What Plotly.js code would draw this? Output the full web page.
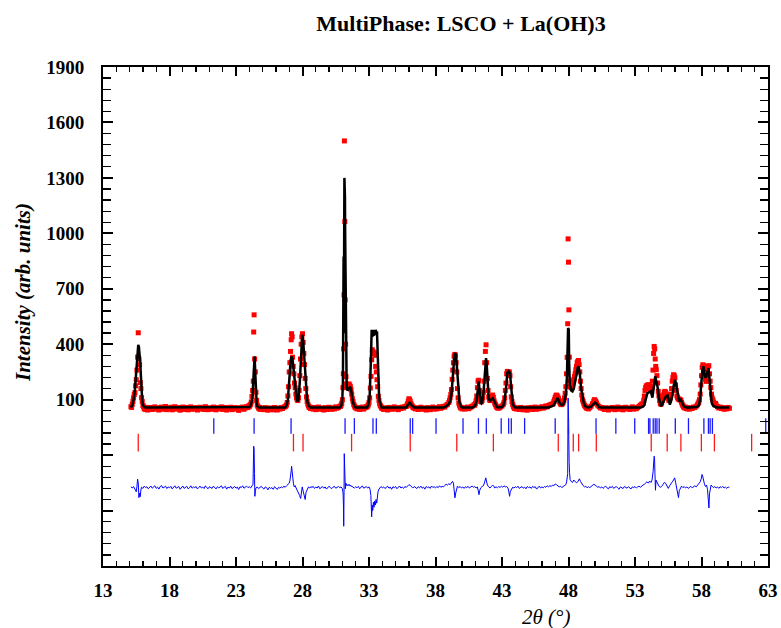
<!DOCTYPE html>
<html>
<head>
<meta charset="utf-8">
<script src="https://cdn.plot.ly/plotly-3.0.1.min.js"></script>
<style>html,body{margin:0;padding:0;background:#fff;}#chart{width:781px;height:628px;}</style>
</head>
<body>
<div id="chart"></div>
<script>
// ---- Data (2theta in degrees, intensity in arb. units) ----
const chartTitle = "MultiPhase: LSCO + La(OH)3";
const xTitle = "2θ (°)";
const yTitle = "Intensity (arb. units)";
const xTickVals = [13, 18, 23, 28, 33, 38, 43, 48, 53, 58, 63];
const yTickVals = [-500, -200, 100, 400, 700, 1000, 1300, 1600, 1900];
const yTickText = ["", "", "100", "400", "700", "1000", "1300", "1600", "1900"];

// observed points [2theta, intensity]
const observed = [
[15.10,62],[15.15,58],[15.20,75],[15.25,91],[15.30,110],[15.35,128],[15.40,138],[15.45,175],[15.50,208],[15.55,260],[15.60,330],[15.65,462],[15.70,320],[15.75,289],[15.80,192],[15.85,160],[15.90,111],[15.95,90],[16.00,68],[16.05,62],[16.10,50],[16.15,55],[16.20,47],[16.25,58],[16.30,52],[16.35,44],[16.40,56],
[16.5,50],[16.6,58],[16.7,47],[16.8,55],[16.9,61],[17.0,49],[17.1,53],[17.2,44],[17.3,57],[17.4,60],[17.5,48],[17.6,52],[17.7,63],[17.8,46],[17.9,55],[18.0,50],[18.1,59],[18.2,45],[18.3,54],[18.4,62],[18.5,49],[18.6,51],[18.7,57],[18.8,43],[18.9,56],[19.0,60],[19.1,47],[19.2,53],[19.3,58],[19.4,45],[19.5,52],[19.6,61],[19.7,48],[19.8,55],[19.9,50],[20.0,57],[20.1,44],[20.2,53],[20.3,59],[20.4,49],[20.5,55],[20.6,47],[20.7,62],[20.8,51],[20.9,46],[21.0,56],[21.1,53],[21.2,48],[21.3,60],[21.4,52],[21.5,45],[21.6,57],[21.7,50],[21.8,54],[21.9,61],[22.0,47],[22.1,53],[22.2,58],[22.3,44],[22.4,55],[22.5,50],[22.6,59],[22.7,46],[22.8,53],[22.9,57],[23.0,49],[23.1,55],[23.2,42],[23.3,56],[23.4,51],[23.5,60],[23.6,48],[23.7,55],[23.8,62],
[23.90,57],[23.95,66],[24.00,63],[24.05,70],[24.10,75],[24.15,88],[24.20,118],[24.25,150],[24.30,200],[24.33,466],[24.36,559],[24.40,320],[24.45,250],[24.50,140],[24.55,96],[24.60,70],[24.65,62],[24.70,55],[24.75,50],[24.80,58],[24.85,47],[24.90,53],
[25.0,52],[25.1,46],[25.2,57],[25.3,50],[25.4,43],[25.5,55],[25.6,48],[25.7,53],[25.8,45],[25.9,58],[26.0,50],[26.1,44],[26.2,54],[26.3,49],[26.4,57],[26.5,52],[26.6,60],
[26.70,62],[26.75,66],[26.80,72],[26.85,85],[26.90,120],[26.95,170],[27.00,250],[27.05,300],[27.10,361],[27.15,424],[27.18,457],[27.22,440],[27.25,330],[27.30,280],[27.35,240],[27.40,190],[27.45,165],[27.50,130],[27.55,110],[27.60,100],[27.65,95],[27.70,110],[27.75,150],[27.80,230],[27.85,320],[27.90,400],[27.95,440],[28.00,457],[28.05,410],[28.10,350],[28.15,290],[28.20,215],[28.25,160],[28.30,115],[28.35,90],[28.40,75],[28.45,66],[28.50,58],[28.55,60],[28.60,52],
[28.7,55],[28.8,49],[28.9,58],[29.0,46],[29.1,53],[29.2,60],[29.3,48],[29.4,55],[29.5,50],[29.6,44],[29.7,57],[29.8,52],[29.9,47],[30.0,59],[30.1,53],[30.2,48],[30.3,56],[30.4,50],[30.5,61],[30.6,54],[30.7,58],[30.8,63],
[30.85,64],[30.90,70],[30.95,80],[31.00,100],[31.04,165],[31.07,240],[31.09,375],[31.12,667],[31.15,1500],[31.18,1064],[31.21,640],[31.24,400],[31.27,224],[31.30,185],[31.35,165],[31.40,172],[31.45,180],[31.50,185],[31.55,178],[31.60,170],[31.65,154],[31.70,130],[31.75,105],[31.80,90],[31.85,75],[31.90,66],[31.95,60],[32.00,55],
[32.1,50],[32.2,57],[32.3,47],[32.4,54],[32.5,60],[32.6,49],[32.7,56],[32.8,62],
[32.85,60],[32.90,66],[32.95,72],[33.00,85],[33.05,110],[33.10,163],[33.15,226],[33.20,316],[33.25,370],[33.30,361],[33.35,350],[33.40,354],[33.45,340],[33.50,280],[33.55,250],[33.60,208],[33.65,170],[33.70,118],[33.75,95],[33.80,78],[33.85,68],[33.90,62],[33.95,55],
[34.0,52],[34.1,47],[34.2,56],[34.3,50],[34.4,44],[34.5,58],[34.6,53],[34.7,48],[34.8,55],[34.9,61],[35.0,49],[35.1,54],[35.2,46],[35.3,57],[35.4,52],[35.5,60],[35.6,55],[35.7,62],
[35.80,63],[35.85,70],[35.90,78],[35.95,92],[36.00,105],[36.05,100],[36.10,92],[36.15,80],[36.20,70],[36.25,66],[36.30,60],[36.35,57],[36.40,54],
[36.5,50],[36.6,56],[36.7,47],[36.8,53],[36.9,59],[37.0,48],[37.1,55],[37.2,51],[37.3,44],[37.4,57],[37.5,52],[37.6,46],[37.7,54],[37.8,60],[37.9,49],[38.0,55],[38.1,50],[38.2,57],[38.3,62],[38.4,53],[38.5,58],[38.6,64],[38.7,60],[38.8,70],[38.9,75],
[39.00,85],[39.05,95],[39.10,110],[39.15,128],[39.20,155],[39.25,210],[39.30,260],[39.35,300],[39.40,335],[39.45,345],[39.50,340],[39.55,300],[39.60,250],[39.65,160],[39.70,110],[39.75,82],[39.80,70],[39.85,60],[39.90,55],[39.95,58],[40.00,50],
[40.1,56],[40.2,49],[40.3,54],[40.4,60],[40.5,51],[40.6,57],[40.7,62],[40.8,66],[40.9,72],
[40.95,70],[41.00,80],[41.05,95],[41.10,120],[41.15,165],[41.20,200],[41.25,205],[41.30,150],[41.35,105],[41.40,90],[41.45,88],[41.50,95],[41.55,110],[41.60,140],[41.65,200],[41.70,300],[41.75,361],[41.80,397],[41.85,300],[41.90,215],[41.95,150],[42.00,115],[42.05,102],[42.10,95],[42.15,100],[42.20,108],[42.25,120],[42.30,125],[42.35,112],[42.40,95],[42.45,82],[42.50,74],[42.55,66],[42.60,60],[42.65,57],[42.70,54],
[42.8,55],[42.9,61],[43.0,66],[43.1,75],
[43.15,85],[43.20,110],[43.25,150],[43.30,190],[43.35,240],[43.40,253],[43.45,250],[43.50,245],[43.55,250],[43.60,230],[43.65,170],[43.70,115],[43.75,90],[43.80,75],[43.85,64],[43.90,58],[43.95,52],
[44.0,56],[44.1,49],[44.2,54],[44.3,47],[44.4,58],[44.5,52],[44.6,45],[44.7,55],[44.8,50],[44.9,43],[45.0,56],[45.1,51],[45.2,58],[45.3,47],[45.4,53],[45.5,60],[45.6,48],[45.7,55],[45.8,51],[45.9,57],[46.0,62],[46.1,54],[46.2,59],[46.3,66],[46.4,61],[46.5,68],[46.6,72],[46.7,75],
[46.80,75],[46.85,80],[46.90,90],[46.95,100],[47.00,112],[47.05,121],[47.10,125],[47.15,120],[47.20,115],[47.25,105],[47.30,92],[47.35,84],[47.40,78],[47.45,73],[47.50,75],[47.55,80],[47.60,85],[47.65,95],[47.70,110],[47.75,135],[47.80,170],[47.85,240],[47.90,329],[47.94,511],[47.97,970],[48.00,844],[48.03,586],[48.06,330],[48.10,200],[48.15,170],[48.20,165],[48.25,175],[48.30,190],[48.35,200],[48.40,210],[48.45,225],[48.50,240],[48.55,262],[48.60,280],[48.65,300],[48.70,307],[48.75,312],[48.80,290],[48.85,250],[48.90,200],[48.95,160],[49.00,125],[49.05,100],[49.10,90],[49.15,78],[49.20,70],[49.25,65],[49.30,60],[49.35,56],[49.40,53],
[49.50,50],[49.60,57],[49.70,65],[49.80,78],[49.90,92],[49.95,100],[50.00,96],[50.05,90],[50.10,82],[50.20,70],[50.30,62],[50.40,55],[50.50,58],
[50.6,52],[50.7,47],[50.8,56],[50.9,50],[51.0,44],[51.1,55],[51.2,49],[51.3,58],[51.4,52],[51.5,46],[51.6,54],[51.7,60],[51.8,48],[51.9,53],[52.0,57],[52.1,45],[52.2,52],[52.3,59],[52.4,50],[52.5,55],[52.6,47],[52.7,53],[52.8,61],[52.9,49],[53.0,56],[53.1,51],[53.2,58],[53.3,64],[53.4,70],[53.5,76],
[53.60,80],[53.65,95],[53.70,120],[53.75,150],[53.80,165],[53.85,175],[53.90,160],[53.95,180],[54.00,165],[54.05,181],[54.10,170],[54.15,154],[54.20,165],[54.25,172],[54.30,200],[54.35,260],[54.40,350],[54.44,388],[54.48,375],[54.52,320],[54.56,280],[54.60,262],[54.65,230],[54.70,190],[54.75,145],[54.80,120],[54.85,95],[54.90,80],[54.95,75],[55.00,82],[55.05,95],[55.10,110],[55.15,125],[55.20,140],[55.25,145],[55.30,140],[55.35,130],[55.40,127],[55.45,120],[55.50,105],[55.55,95],[55.60,100],[55.65,110],[55.70,130],[55.75,160],[55.80,200],[55.85,220],[55.90,235],[55.95,230],[56.00,219],[56.05,180],[56.10,150],[56.15,120],[56.20,111],[56.25,105],[56.30,100],[56.35,102],[56.40,100],[56.45,95],[56.50,85],[56.55,75],[56.60,68],[56.65,62],[56.70,58],[56.75,55],[56.80,60],[56.85,52],[56.90,57],[56.95,50],[57.00,55],
[57.1,49],[57.2,56],[57.3,52],[57.4,60],[57.5,58],[57.6,65],[57.7,72],
[57.75,80],[57.80,88],[57.85,100],[57.90,130],[57.95,180],[58.00,230],[58.05,275],[58.10,289],[58.15,285],[58.20,262],[58.25,230],[58.30,210],[58.35,199],[58.40,230],[58.45,262],[58.50,280],[58.55,284],[58.60,240],[58.65,200],[58.70,165],[58.75,130],[58.80,110],[58.85,100],[58.90,88],[58.95,80],[59.00,76],[59.05,80],[59.10,72],
[59.2,62],[59.3,55],[59.4,60],[59.5,52],[59.6,57],[59.7,48],[59.8,55],[59.9,50],[60.0,58],[60.1,53]
];

// calculated profile [2theta, intensity]
const calculated = [
[15.1,57],[15.2,70],[15.3,100],[15.4,154],[15.5,250],[15.55,310],[15.6,370],[15.65,397],[15.7,385],[15.75,352],[15.8,300],[15.85,226],[15.9,140],[15.95,95],[16.0,72],[16.1,60],[16.2,57],
[23.9,57],[24.0,60],[24.1,68],[24.2,95],[24.25,130],[24.3,220],[24.35,320],[24.4,334],[24.45,240],[24.5,130],[24.55,85],[24.6,65],[24.7,58],
[26.7,58],[26.8,68],[26.9,100],[27.0,180],[27.05,250],[27.1,310],[27.17,334],[27.25,320],[27.35,250],[27.45,160],[27.55,110],[27.62,91],[27.7,100],[27.8,200],[27.9,380],[27.98,451],[28.05,420],[28.15,300],[28.25,170],[28.35,95],[28.45,68],[28.55,60],[28.6,57],
[30.8,58],[30.9,64],[30.95,80],[31.0,115],[31.04,200],[31.07,420],[31.09,875],[31.11,460],[31.13,1000],[31.15,1300],[31.17,1290],[31.19,1200],[31.21,980],[31.23,700],[31.25,420],[31.28,240],[31.32,170],[31.38,150],[31.45,160],[31.52,165],[31.58,170],[31.65,155],[31.72,120],[31.8,85],[31.9,65],[32.0,58],
[32.85,58],[32.95,72],[33.05,120],[33.1,200],[33.15,330],[33.2,478],[33.25,440],[33.3,478],[33.35,445],[33.4,478],[33.45,450],[33.5,478],[33.55,455],[33.6,470],[33.65,330],[33.7,200],[33.75,130],[33.8,90],[33.9,65],[33.95,58],
[35.8,58],[35.9,66],[36.0,80],[36.05,85],[36.1,82],[36.2,70],[36.3,62],[36.4,58],
[38.6,58],[38.8,64],[39.0,76],[39.1,95],[39.2,130],[39.3,200],[39.35,270],[39.4,330],[39.47,352],[39.55,340],[39.6,290],[39.65,210],[39.7,140],[39.8,85],[39.9,65],[40.0,58],
[40.8,58],[40.9,62],[41.0,70],[41.1,100],[41.15,150],[41.2,190],[41.25,199],[41.3,160],[41.35,110],[41.4,85],[41.45,80],[41.5,85],[41.6,130],[41.7,250],[41.75,300],[41.8,325],[41.85,290],[41.9,200],[41.95,140],[42.0,105],[42.1,95],[42.2,100],[42.3,108],[42.4,95],[42.5,75],[42.6,62],[42.7,58],
[43.0,60],[43.1,68],[43.2,100],[43.3,160],[43.35,210],[43.4,245],[43.5,253],[43.6,245],[43.65,200],[43.7,140],[43.75,100],[43.8,80],[43.9,62],[44.0,58],
[46.5,58],[46.7,62],[46.8,66],[46.9,72],[47.0,85],[47.1,102],[47.18,109],[47.25,100],[47.35,80],[47.5,70],[47.6,75],[47.7,90],[47.8,130],[47.88,220],[47.93,350],[47.97,487],[48.0,440],[48.02,480],[48.05,300],[48.1,180],[48.2,150],[48.3,145],[48.4,160],[48.5,200],[48.6,250],[48.7,275],[48.76,280],[48.85,240],[48.95,160],[49.05,110],[49.15,80],[49.25,65],[49.35,60],
[49.5,58],[49.7,62],[49.8,70],[49.9,80],[50.0,84],[50.1,80],[50.2,68],[50.3,60],[50.5,57],
[53.4,57],[53.6,62],[53.7,70],[53.8,100],[53.94,136],[54.05,140],[54.19,145],[54.31,111],[54.4,170],[54.45,210],[54.52,226],[54.6,200],[54.69,172],[54.8,110],[54.94,64],[55.05,75],[55.15,95],[55.27,111],[55.35,118],[55.45,122],[55.55,95],[55.62,73],[55.72,95],[55.82,127],[55.92,180],[56.02,208],[56.1,180],[56.17,145],[56.25,100],[56.32,91],[56.44,100],[56.55,80],[56.69,62],[56.95,57],
[57.6,58],[57.7,62],[57.82,73],[57.9,110],[57.99,192],[58.07,260],[58.15,280],[58.22,240],[58.27,219],[58.37,226],[58.45,255],[58.52,271],[58.58,230],[58.65,163],[58.77,82],[58.9,65],[59.07,62],[59.2,58],[60.1,57]
];

// difference curve (observed - calculated, shifted) [2theta, value]
const difference = [
[15.1,-372],[15.2,-378],[15.3,-370],[15.4,-386],[15.5,-398],[15.55,-372],[15.6,-330],[15.65,-350],[15.7,-430],[15.75,-405],[15.8,-425],[15.85,-388],[15.9,-374],[16.0,-380],[16.1,-368],[16.2,-376],[16.3,-371],[16.4,-382],[16.5,-374],[16.6,-367],[16.7,-379],[16.8,-372],[16.9,-366],[17.0,-380],[17.1,-373],[17.2,-384],[17.3,-370],[17.4,-365],[17.5,-378],[17.6,-374],[17.7,-368],[17.8,-381],[17.9,-372],[18.0,-377],[18.1,-369],[18.2,-383],[18.3,-375],[18.4,-366],[18.5,-379],[18.6,-376],[18.7,-370],[18.8,-385],[18.9,-372],[19.0,-367],[19.1,-380],[19.2,-374],[19.3,-369],[19.4,-382],[19.5,-377],[19.6,-366],[19.7,-379],[19.8,-372],[19.9,-376],[20.0,-370],[20.1,-383],[20.2,-375],[20.3,-368],[20.4,-378],[20.5,-373],[20.6,-381],[20.7,-366],[20.8,-376],[20.9,-382],[21.0,-371],[21.1,-375],[21.2,-380],[21.3,-368],[21.4,-374],[21.5,-383],[21.6,-371],[21.7,-377],[21.8,-373],[21.9,-366],[22.0,-380],[22.1,-375],[22.2,-369],[22.3,-384],[22.4,-373],[22.5,-378],[22.6,-368],[22.7,-381],[22.8,-374],[22.9,-370],[23.0,-379],[23.1,-373],[23.2,-386],[23.3,-371],[23.4,-376],[23.5,-366],[23.6,-379],[23.7,-374],[23.8,-368],[23.9,-376],[24.0,-371],[24.1,-378],[24.2,-368],[24.28,-358],[24.33,-152],[24.36,-165],[24.39,-300],[24.42,-423],[24.46,-392],[24.5,-378],[24.6,-372],[24.7,-381],[24.8,-375],[24.9,-369],[25.0,-378],[25.1,-384],[25.2,-372],[25.3,-376],[25.4,-388],[25.5,-374],[25.6,-380],[25.7,-376],[25.8,-385],[25.9,-371],[26.0,-378],[26.1,-386],[26.2,-374],[26.3,-379],[26.4,-372],[26.5,-377],[26.6,-368],[26.7,-374],[26.8,-366],[26.9,-360],[27.0,-352],[27.05,-340],[27.1,-322],[27.15,-285],[27.18,-260],[27.22,-292],[27.27,-332],[27.32,-355],[27.38,-372],[27.45,-365],[27.52,-378],[27.6,-388],[27.7,-400],[27.78,-418],[27.86,-435],[27.92,-395],[27.98,-372],[28.05,-395],[28.12,-420],[28.2,-440],[28.27,-400],[28.35,-382],[28.45,-372],[28.55,-378],[28.65,-370],[28.7,-376],[28.8,-369],[28.9,-380],[29.0,-373],[29.1,-378],[29.2,-367],[29.3,-382],[29.4,-374],[29.5,-370],[29.6,-379],[29.7,-372],[29.8,-384],[29.9,-375],[30.0,-368],[30.1,-377],[30.2,-381],[30.3,-373],[30.4,-369],[30.5,-379],[30.6,-374],[30.7,-370],[30.8,-376],[30.9,-372],[31.0,-382],[31.05,-405],[31.08,-470],[31.1,-585],[31.12,-430],[31.14,-192],[31.16,-260],[31.19,-330],[31.22,-382],[31.26,-352],[31.3,-360],[31.35,-366],[31.4,-360],[31.45,-364],[31.5,-358],[31.55,-366],[31.6,-362],[31.65,-370],[31.7,-368],[31.8,-374],[31.9,-378],[32.0,-371],[32.1,-377],[32.2,-369],[32.3,-382],[32.4,-373],[32.5,-367],[32.6,-379],[32.7,-374],[32.8,-370],[32.9,-378],[33.0,-372],[33.08,-385],[33.14,-418],[33.2,-534],[33.24,-470],[33.28,-500],[33.33,-455],[33.38,-482],[33.43,-448],[33.48,-470],[33.53,-440],[33.58,-460],[33.63,-420],[33.68,-398],[33.75,-384],[33.82,-376],[33.9,-370],[34.0,-377],[34.1,-372],[34.2,-381],[34.3,-374],[34.4,-368],[34.5,-379],[34.6,-373],[34.7,-385],[34.8,-371],[34.9,-376],[35.0,-370],[35.1,-382],[35.2,-374],[35.3,-367],[35.4,-378],[35.5,-373],[35.6,-380],[35.7,-370],[35.8,-375],[35.9,-366],[36.0,-360],[36.1,-364],[36.2,-372],[36.3,-378],[36.4,-370],[36.5,-375],[36.6,-381],[36.7,-371],[36.8,-377],[36.9,-368],[37.0,-379],[37.1,-373],[37.2,-384],[37.3,-370],[37.4,-376],[37.5,-372],[37.6,-380],[37.7,-367],[37.8,-375],[37.9,-371],[38.0,-378],[38.1,-370],[38.2,-376],[38.3,-366],[38.4,-374],[38.5,-369],[38.6,-372],[38.7,-364],[38.8,-358],[38.9,-362],[39.0,-355],[39.1,-360],[39.2,-350],[39.28,-342],[39.35,-352],[39.41,-398],[39.46,-431],[39.52,-405],[39.58,-385],[39.65,-368],[39.75,-376],[39.85,-370],[39.95,-378],[40.05,-372],[40.15,-380],[40.25,-371],[40.35,-376],[40.45,-369],[40.55,-378],[40.65,-372],[40.75,-367],[40.85,-374],[40.95,-370],[41.05,-378],[41.15,-372],[41.22,-395],[41.27,-414],[41.32,-392],[41.4,-377],[41.5,-370],[41.6,-366],[41.68,-350],[41.74,-328],[41.78,-323],[41.83,-340],[41.9,-362],[42.0,-372],[42.1,-378],[42.2,-370],[42.3,-362],[42.38,-368],[42.45,-378],[42.55,-371],[42.65,-377],[42.75,-370],[42.85,-375],[42.95,-368],[43.05,-374],[43.15,-366],[43.25,-372],[43.35,-370],[43.45,-378],[43.52,-400],[43.57,-423],[43.62,-398],[43.7,-384],[43.8,-374],[43.9,-378],[44.0,-371],[44.1,-376],[44.2,-368],[44.3,-380],[44.4,-374],[44.5,-370],[44.6,-379],[44.7,-373],[44.8,-382],[44.9,-370],[45.0,-376],[45.1,-372],[45.2,-380],[45.3,-369],[45.4,-375],[45.5,-371],[45.6,-384],[45.7,-374],[45.8,-368],[45.9,-378],[46.0,-372],[46.1,-377],[46.2,-370],[46.3,-374],[46.4,-366],[46.5,-372],[46.6,-365],[46.7,-370],[46.8,-362],[46.9,-366],[47.0,-356],[47.1,-360],[47.2,-364],[47.3,-372],[47.4,-368],[47.5,-376],[47.6,-370],[47.7,-364],[47.8,-360],[47.86,-345],[47.91,-310],[47.94,-300],[47.97,109],[47.99,-89],[48.02,-160],[48.05,-240],[48.08,-295],[48.12,-332],[48.2,-342],[48.3,-348],[48.4,-335],[48.5,-342],[48.6,-350],[48.7,-344],[48.76,-338],[48.82,-328],[48.9,-342],[49.0,-356],[49.1,-365],[49.2,-372],[49.3,-368],[49.4,-377],[49.5,-371],[49.6,-376],[49.7,-368],[49.8,-362],[49.9,-358],[50.0,-362],[50.1,-366],[50.2,-374],[50.3,-370],[50.4,-378],[50.5,-372],[50.6,-380],[50.7,-373],[50.8,-368],[50.9,-377],[51.0,-383],[51.1,-371],[51.2,-376],[51.3,-369],[51.4,-380],[51.5,-374],[51.6,-370],[51.7,-378],[51.8,-385],[51.9,-372],[52.0,-376],[52.1,-381],[52.2,-370],[52.3,-375],[52.4,-379],[52.5,-371],[52.6,-377],[52.7,-383],[52.8,-372],[52.9,-376],[53.0,-370],[53.1,-378],[53.2,-372],[53.3,-368],[53.4,-374],[53.5,-366],[53.6,-362],[53.7,-358],[53.8,-348],[53.9,-344],[54.0,-352],[54.1,-340],[54.2,-348],[54.28,-335],[54.36,-290],[54.41,-225],[54.44,-206],[54.47,-218],[54.5,-300],[54.54,-390],[54.58,-335],[54.65,-348],[54.72,-362],[54.8,-368],[54.9,-374],[55.0,-370],[55.1,-360],[55.2,-348],[55.3,-352],[55.4,-368],[55.5,-380],[55.6,-366],[55.7,-358],[55.8,-345],[55.9,-335],[55.98,-323],[56.06,-350],[56.14,-382],[56.22,-405],[56.27,-430],[56.33,-392],[56.42,-374],[56.5,-368],[56.6,-376],[56.7,-370],[56.8,-378],[56.9,-372],[57.0,-380],[57.1,-374],[57.2,-369],[57.3,-377],[57.4,-371],[57.5,-366],[57.6,-372],[57.7,-364],[57.8,-358],[57.9,-345],[57.98,-328],[58.04,-305],[58.1,-318],[58.15,-340],[58.22,-356],[58.3,-370],[58.38,-362],[58.45,-385],[58.5,-420],[58.56,-486],[58.6,-410],[58.66,-375],[58.72,-362],[58.8,-368],[58.9,-376],[59.0,-370],[59.1,-378],[59.2,-372],[59.3,-380],[59.4,-371],[59.5,-376],[59.6,-369],[59.7,-378],[59.8,-373],[59.9,-380],[60.0,-372],[60.1,-376]
];

// Bragg reflection positions (2theta)
const phase1Peaks = [21.33,24.36,27.14,31.2,31.9,33.3,33.55,36.1,36.28,38.04,40.07,41.23,41.82,42.94,43.5,43.7,44.7,47.0,48.0,50.07,51.56,52.98,54.02,54.12,54.37,54.52,54.65,54.82,56.03,57.02,58.18,58.52,58.65,58.82,62.83];
const phase2Peaks = [15.65,27.32,28.04,31.69,36.1,39.6,42.35,47.23,48.36,48.76,50.09,54.22,55.42,56.45,57.99,58.97,61.77];
const phase1TickSpan = [0, -85];
const phase2TickSpan = [-85, -180];

// ---- Build traces ----
function tickSegments(peaks, span) {
  const xs = [], ys = [];
  peaks.forEach(p => { xs.push(p, p, null); ys.push(span[0], span[1], null); });
  return {x: xs, y: ys};
}
const t1 = tickSegments(phase1Peaks, phase1TickSpan);
const t2 = tickSegments(phase2Peaks, phase2TickSpan);

const traces = [
  {x: observed.map(d => d[0]), y: observed.map(d => d[1]), type: 'scatter', mode: 'markers',
   name: 'Observed', marker: {symbol: 'square', size: 5, color: '#ff0000'}},
  {x: calculated.map(d => d[0]), y: calculated.map(d => d[1]), type: 'scatter', mode: 'lines',
   name: 'Calculated', line: {color: '#000000', width: 2.5}},
  {x: difference.map(d => d[0]), y: difference.map(d => d[1]), type: 'scatter', mode: 'lines',
   name: 'Difference', line: {color: '#0000ff', width: 1}},
  {x: t1.x, y: t1.y, type: 'scatter', mode: 'lines', name: 'LSCO', line: {color: '#1a1aff', width: 1.3}, connectgaps: false},
  {x: t2.x, y: t2.y, type: 'scatter', mode: 'lines', name: 'La(OH)3', line: {color: '#ff1a1a', width: 1.3}, connectgaps: false}
];

const serif = 'Liberation Serif, Times New Roman, serif';
const layout = {
  width: 781, height: 628,
  paper_bgcolor: '#ffffff', plot_bgcolor: '#ffffff',
  margin: {l: 103, r: 13, t: 67, b: 62},
  showlegend: false,
  title: {text: chartTitle, font: {family: serif, size: 22, color: '#000', weight: 700},
          xref: 'container', yref: 'container', x: 461/781, xanchor: 'center', y: 1 - 23/628, yanchor: 'middle'},
  xaxis: {
    range: [13, 63], tickmode: 'array', tickvals: xTickVals,
    ticks: 'inside', ticklen: 9, tickwidth: 2, tickcolor: '#000',
    minor: {dtick: 1, tick0: 13, ticks: 'inside', ticklen: 5, tickwidth: 1.3, tickcolor: '#000', showgrid: false},
    showline: true, linewidth: 2, linecolor: '#000', mirror: 'ticks',
    showgrid: false, zeroline: false, ticklabelstandoff: 6,
    tickfont: {family: serif, size: 19, color: '#000', weight: 700}
  },
  yaxis: {
    range: [-800, 1900], tickmode: 'array', tickvals: yTickVals, ticktext: yTickText,
    ticks: 'inside', ticklen: 10, tickwidth: 2, tickcolor: '#000',
    minor: {dtick: 60, tick0: 100, ticks: 'inside', ticklen: 8, tickwidth: 1.3, tickcolor: '#000', showgrid: false},
    showline: true, linewidth: 2, linecolor: '#000', mirror: 'ticks',
    showgrid: false, zeroline: false, ticklabelstandoff: 13,
    tickfont: {family: serif, size: 19, color: '#000', weight: 700}
  },
  annotations: [
    {text: yTitle, xref: 'paper', yref: 'paper', x: (23 - 103) / 665, y: (566 - 293) / 499,
     xanchor: 'center', yanchor: 'middle', textangle: -90, showarrow: false,
     font: {family: serif, size: 21, color: '#000', weight: 700, style: 'italic'}},
    {text: xTitle, xref: 'paper', yref: 'paper', x: (546 - 103) / 665, y: (566 - 617) / 499,
     xanchor: 'center', yanchor: 'middle', showarrow: false,
     font: {family: serif, size: 21, color: '#000', style: 'italic'}}
  ]
};

Plotly.newPlot('chart', traces, layout, {displayModeBar: false, staticPlot: true});
</script>
</body>
</html>
